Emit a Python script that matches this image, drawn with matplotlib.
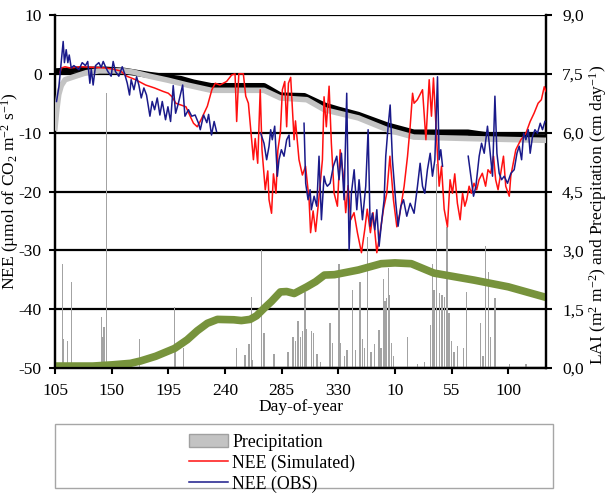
import numpy as np
import matplotlib
matplotlib.use("Agg")
import matplotlib.pyplot as plt
from matplotlib.patches import Patch, Rectangle
from matplotlib.lines import Line2D

plt.rcParams['font.family'] = 'Liberation Serif'
plt.rcParams['mathtext.fontset'] = 'custom'
plt.rcParams['mathtext.rm'] = 'Liberation Serif'
plt.rcParams['mathtext.it'] = 'Liberation Serif:italic'
plt.rcParams['font.size'] = 12.5

# x = days since day-of-year 105
tick_pos = [0, 45, 90, 135, 180, 225, 270, 315, 360]
tick_lab = ['105', '150', '195', '240', '285', '330', '10', '55', '100']
nee_ticks = [-50, -40, -30, -20, -10, 0, 10]
right_ticks = [0, 1.5, 3, 4.5, 6, 7.5, 9]

# precipitation (cm/day)
prec_t = [6, 7, 10, 13, 37, 38, 39, 41, 67, 95, 96, 102, 144, 151, 154, 156, 157, 164, 166, 174,
          185, 189, 191, 193, 195, 196.5, 198.6, 200, 203.6, 205.2, 208, 210.7, 218.5, 220.3, 225.6,
          227, 230, 232, 236.2, 238.8, 242.3, 244.2, 246, 248.1, 251, 254, 257.4, 259, 260.9, 262.2,
          263.5, 264.6, 265.9, 267.2, 269, 280, 288, 293.3, 298, 299.8, 301.1, 303, 305.2, 307.3,
          309.1, 311.3, 313, 315, 317, 319.8, 324.5, 327.1, 338.2, 340, 341.7, 344.1, 345.7, 349.4,
          360.8, 374]
prec_v = [2.65, 0.75, 0.7, 2.2, 1.3, 0.8, 1.05, 7.0, 0.75, 1.56, 0.4, 0.5, 0.5, 0.33, 0.6, 1.8, 0.2,
          3.0, 0.9, 0.35, 0.4, 0.8, 0.7, 1.2, 0.8, 0.95, 1.95, 1.0, 0.95, 0.9, 0.35, 0.15, 1.14, 0.63,
          2.65, 0.63, 0.3, 0.45, 2.0, 0.46, 2.2, 0.75, 0.5, 3.35, 0.4, 0.6, 0.97, 0.5, 2.27, 1.7, 1.78,
          2.55, 1.85, 0.63, 0.3, 0.8, 0.1, 0.15, 1.1, 2.65, 2.0, 5.2, 1.9, 1.85, 1.8, 3.6, 1.4, 0.7,
          0.4, 0.55, 0.5, 1.95, 1.14, 0.3, 3.1, 2.46, 0.8, 1.78, 0.1, 0.1]

# LAI (m2/m2)
lai_t = [0, 30, 45, 60, 68, 80, 95, 105, 113, 121, 129, 142, 148, 155, 160, 166, 172, 179, 184,
         190, 200, 207, 214, 222, 241, 259, 270, 283, 301, 333, 360, 390]
lai_v = [0.05, 0.05, 0.08, 0.12, 0.18, 0.3, 0.5, 0.72, 0.95, 1.14, 1.24, 1.23, 1.21, 1.24, 1.33,
         1.52, 1.7, 1.94, 1.95, 1.9, 2.07, 2.2, 2.37, 2.38, 2.5, 2.66, 2.68, 2.66, 2.42, 2.24, 2.07, 1.8]

# black and grey model curves (NEE axis)
blk_t = [0, 8, 15, 40, 55, 75, 100, 110, 124, 166, 179, 198, 214, 225, 241, 255, 264, 285, 328, 351, 390]
blk_v = [0.4, 0.5, 0.7, 0.7, 0.5, -0.2, -0.9, -1.5, -2.1, -2.1, -3.7, -3.8, -5.4, -6.1, -7.0, -8.1,
         -8.8, -10.0, -10.0, -10.7, -10.8]
gry_t = [0, 1.5, 3, 5, 8, 15, 25, 35, 55, 62, 75, 90, 105, 124, 166, 179, 200, 214, 241, 264, 285, 328, 390]
gry_v = [-9.2, -6.0, -3.5, -2.0, -1.0, -0.5, 0.2, 0.5, 0.5, 0.3, -0.4, -1.1, -1.9, -2.8, -2.8, -4.1,
         -4.4, -6.1, -7.5, -9.5, -10.75, -11.0, -11.3]

# NEE simulated
sim_t = [4, 5, 8, 12, 20, 30, 40, 46, 52, 57, 64, 72, 79, 86, 90, 93, 96, 100, 104, 108, 110, 113,
         116, 121, 124.6, 127.3, 131, 136.3, 140.3, 143, 144.3, 146, 149.6, 151.5, 153.6, 155.5,
         157.6, 159, 161, 163, 164.4, 167, 169, 170, 172, 173.5, 175.5, 177, 179, 180.6, 182.5, 184,
         185.4, 187.2, 189.9, 191, 193.8, 196.5, 199, 201.8, 203, 205, 207, 209.5, 212.4, 213.7,
         215.5, 217.7, 219.5, 221.7, 224.3, 226.5, 229, 230.9, 232.8, 234.9, 237.5, 240.2, 243.4,
         246, 248, 250.5, 252.6, 255.6, 258.2, 260.9, 263.5, 266, 268.8, 271.5, 274, 277.3, 280,
         282.1, 284, 285.2, 287.8, 291.9, 294.6, 297.2, 299, 300.6, 303.3, 305.1, 307, 309.1, 311.7,
         313.8, 315.7, 317.5, 319.6, 321.8, 323.7, 325.5, 327, 328.9, 330.7, 332.8, 334.9, 336.8,
         339.4, 342, 343.9, 346, 348.3, 350, 351.9, 354, 356.2, 358, 360.8, 362, 366, 370, 374,
         377.4, 380.5, 383.7, 386.3, 388.6, 390]
sim_v = [0.2, 1.0, 1.2, 1.0, 1.2, 1.1, 1.0, 0.8, 0.5, -0.4, -1.0, -1.9, -2.4, -3.0, -3.3, -3.9,
         -5.0, -5.3, -5.6, -7.5, -8.4, -9.0, -7.8, -5.5, -2.7, -1.6, -1.9, -1.3, -0.2, 0.0, -8.1,
         0.0, 0.0, -3.8, -5.0, -9.5, -14.6, -11.0, -15.2, -2.7, -12.9, -19.7, -16.5, -21.4, -23.7,
         -17.0, -20.3, -13.0, -10.0, -2.7, -1.3, -9.0, -1.6, -0.6, -11.2, -8.0, -14.6, -17.2, -15.7,
         -21.4, -27.0, -23.3, -26.8, -21.4, -14.6, -3.9, -9.0, -2.1, -11.8, -20.3, -22.5, -12.9,
         -17.4, -23.6, -19.0, -24.8, -23.6, -27.0, -30.4, -26.5, -23.0, -27.0, -23.6, -30.4, -27.0,
         -23.0, -20.3, -14.0, -21.4, -26.0, -23.6, -19.1, -14.0, -8.9, -3.3, -5.0, -4.4, -2.7,
         -11.2, -1.0, -7.2, -0.7, -11.8, -19.1, -15.7, -23.0, -26.0, -18.0, -20.3, -17.0, -22.0,
         -24.8, -20.3, -22.5, -21.4, -19.1, -20.3, -18.6, -19.7, -18.0, -16.9, -19.1, -16.3, -16.9,
         -14.0, -18.0, -19.7, -16.9, -14.0, -19.1, -20.8, -17.4, -12.9, -11.2, -10.1, -8.1, -6.7,
         -5.0, -4.4, -2.2, -3.0]

# NEE observed (nan = gap)
obs_t = [1.2, 3.1, 4.9, 6.5, 7.5, 8.9, 10.2, 11.3, 12.9, 15, 19, 21.6, 24.2, 26, 27.7, 28.8, 30.3,
         32.2, 34.8, 36.7, 38.3, 40.1, 42, 44.6, 46.2, 48, 50.7, 53.4, 55.2, 57.4, 59.2, 60.5, 62.7,
         64.8, 66.6, 68.5, 70.6, 72.7, 75.4, 77.2, 79.1, 81.2, 83.3, 85.2, 87.8, 89.7, 91.8, 93.9,
         95.8, 98, 101.4, 103.2, 106, 108.6, 111.3, 114, 115.4, 118, 120.6, 122, 124.3, 126.4, 128.3,
         130,
         163.4, 166, 168.1, 170, 171.3, 172.6, 174.5, 176.6, 177.9, 179.8, 181.9, 184, 185.9, 186.4,
         190,
         197.8, 199.1, 201, 202.6, 203.6, 205.8, 207.9, 209.7, 211.6, 213.7, 215, 216.3, 218.5, 221.1,
         223.8, 225.6, 227.5, 229.6, 231.7, 233.6, 235.4, 237.6, 239.7, 241.5, 244.2, 246.8, 248.7,
         250.3, 252.1, 254, 255.6, 257.4, 259.3, 261.4, 262.7, 264.6, 266.2, 268, 270.7, 272.5,
         274.7, 276.8, 279.4, 282.1, 285.2, 287.9, 290, 291.9, 293.7, 295.8, 298, 299.8, 301.7,
         303.8, 305.1, 306.4, 307.8,
         318,
         328.2, 330.3, 332.4, 334.3, 336.9, 338.8, 340.9, 343.5, 345.7, 347.5, 349.4, 351, 352.8,
         354.7, 356.8, 359.4, 362.1, 364.7, 366.9, 368.7, 370.6, 372.2, 374, 375.9, 377.4, 379.3,
         381.2, 383.2, 385.4, 387.2, 389.1]
obs_v = [-4.7, -2.2, 1.8, 5.5, 1.9, 4.1, 1.9, 3.2, 1.0, 1.4, 0.7, 1.9, 1.4, 2.1, -1.6, 0.8, -1.9,
         1.4, 1.9, 1.1, 2.1, 1.2, 0.4, -0.4, 2.1, 0.4, -0.4, 1.2, 0.1, -1.6, -3.6, -1.0, -2.7, -0.5,
         -1.9, -4.1, -2.4, -3.6, -7.2, -4.7, -6.1, -4.1, -7.0, -4.7, -7.8, -5.6, -8.1, -2.0, -6.7,
         -5.0, -1.9, -7.2, -6.1, -7.2, -7.0, -8.4, -9.5, -7.0, -8.3, -6.9, -10.4, -8.1, -9.8,
         np.nan,
         -10.1, -11.8, -14.6, -12.3, -9.5, -11.2, -8.9, -17.4, -14.6, -12.9, -14.0, -11.2, -10.4,
         -12.3,
         np.nan,
         -8.4, -18.6, -21.4, -19.7, -23.1, -20.8, -22.5, -14.0, -24.8, -17.4, -18.6, -19.1, -18.6,
         -15.7, -14.0, -18.0, -13.5, -21.4, -3.3, -29.9, -20.3, -16.3, -23.1, -18.0, -24.8, -19.1,
         -9.5, -25.9, -23.7, -26.5, -23.1, -29.3, -25.4, -21.4, -14.0, -8.9, -5.3, -14.6, -22.0,
         -25.9, -22.5, -21.4, -24.2, -22.0, -23.7, -19.1, -15.2, -19.1, -20.3, -16.3, -13.5, -17.4,
         -14.6, -0.5, -14.6, -12.9, -15.7,
         np.nan,
         -14.0, -17.4, -20.8, -19.1, -14.0, -11.8, -13.5, -8.9, -13.5, -17.4, -3.8, -13.5, -16.9,
         -18.0, -17.4, -18.6, -16.9, -16.3, -13.5, -12.3, -14.6, -10.1, -11.2, -9.5, -13.5, -10.6,
         -9.5, -10.1, -8.4, -9.5, -8.1]

fig = plt.figure(figsize=(6.09, 4.93), dpi=100)
ax = fig.add_axes([0.0903, 0.2535, 0.8063, 0.7161])
ax2 = ax.twinx()

ax2.bar(prec_t, prec_v, width=1.0, color='#a3a3a3', zorder=2)
ax2.plot(lai_t, lai_v, color='#77933C', lw=5.5, solid_capstyle='butt', zorder=3)
ax2.set_ylim(0, 9)
ax2.set_yticks(right_ticks)
ax2.set_yticklabels([f'{v:.1f}'.replace('.', ',') for v in right_ticks])
ax2.grid(axis='y', color='black', lw=1.6, zorder=1)
ax2.set_axisbelow(True)

ax.set_zorder(ax2.get_zorder() + 1)
ax.patch.set_visible(False)
ax.plot(blk_t, blk_v, color='black', lw=4.6, zorder=3)
ax.plot(gry_t, gry_v, color='#c3c3c3', lw=4.0, zorder=4)
ax.plot(sim_t, sim_v, color='#ff1010', lw=1.1, zorder=5)
ax.plot(obs_t, obs_v, color='#1a1a8a', lw=1.1, zorder=6)
ax.set_ylim(-50, 10)
ax.set_yticks(nee_ticks)
ax.set_yticklabels([str(v) for v in nee_ticks])
ax.set_xlim(0, 390)
ax.set_xticks(tick_pos)
ax.set_xticklabels(tick_lab)

for a in (ax, ax2):
    for s in a.spines.values():
        s.set_linewidth(1.6)
    a.spines['top'].set_visible(False)
    a.tick_params(direction='out', length=4.5, width=1.5, labelsize=12.5)
ax.tick_params(axis='y', pad=5)
ax.tick_params(axis='x', pad=6)
ax2.tick_params(axis='y', pad=7)

ax.set_xlabel('Day-of-year', fontsize=12.5, labelpad=0)
fig.text(10 / 609, 0.612, 'NEE (µmol of CO$_2$ m$^{-2}$ s$^{-1}$)', rotation=90,
         ha='center', va='center', fontsize=12.5)
fig.text(598 / 609, 0.564, 'LAI (m$^2$ m$^{-2}$) and Precipitation (cm day$^{-1}$)', rotation=90,
         ha='center', va='center', fontsize=12.5)

fig.patches.append(Rectangle((55 / 609, 1 - 488 / 493), 498 / 609, 64 / 493,
                             transform=fig.transFigure, fill=False, edgecolor='#a6a6a6', lw=1.0))
handles = [Patch(facecolor='#c3c3c3', edgecolor='#a0a0a0'),
           Line2D([], [], color='#ff1010', lw=1.1),
           Line2D([], [], color='#1a1a8a', lw=1.1)]
fig.legend(handles, ['Precipitation', 'NEE (Simulated)', 'NEE (OBS)'], loc='upper left',
           bbox_to_anchor=(180 / 609, 1 - 425 / 493), frameon=False, borderpad=0,
           handlelength=2.2, handletextpad=0.25, labelspacing=0.2, fontsize=12.8)

fig.savefig('out.png', dpi=100)
